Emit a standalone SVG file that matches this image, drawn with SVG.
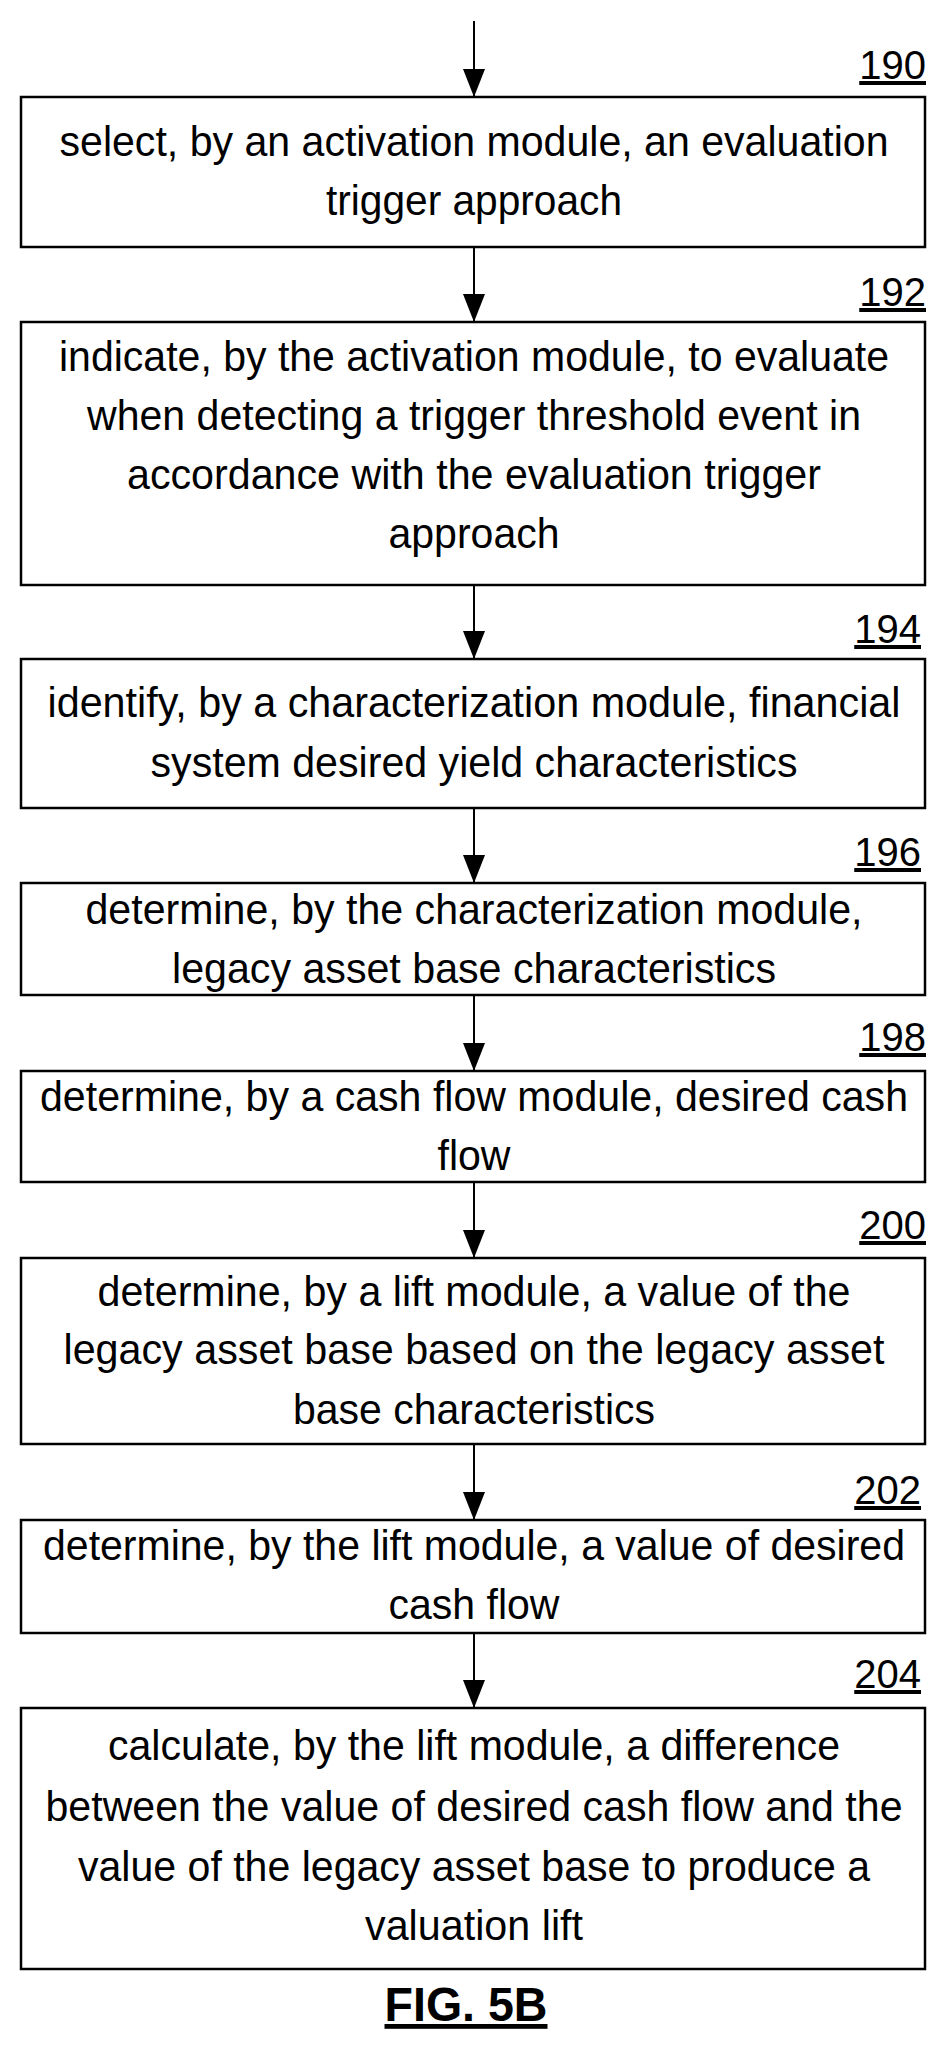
<svg xmlns="http://www.w3.org/2000/svg" width="944" height="2054" viewBox="0 0 944 2054">
<style>
.box{fill:#fff;stroke:#000;stroke-width:2.5}
.t{font-family:"Liberation Sans",Arial,sans-serif;font-size:42px;fill:#000;text-anchor:middle}
.n{font-family:"Liberation Sans",Arial,sans-serif;font-size:40px;fill:#000;text-anchor:end;text-decoration:underline}
.c{stroke:#000;stroke-width:2;fill:none;marker-end:url(#ah)}
</style>
<defs><marker id="ah" markerUnits="userSpaceOnUse" markerWidth="28" markerHeight="22" refX="28" refY="11" orient="auto" viewBox="0 0 28 22"><path d="M0,0 L28,11 L0,22 Z" fill="#000"/></marker></defs>
<g id="connectors">
<line class="c" x1="474" y1="21" x2="474" y2="97"/>
<line class="c" x1="474" y1="247" x2="474" y2="322"/>
<line class="c" x1="474" y1="585" x2="474" y2="659"/>
<line class="c" x1="474" y1="808" x2="474" y2="883"/>
<line class="c" x1="474" y1="995" x2="474" y2="1071"/>
<line class="c" x1="474" y1="1182" x2="474" y2="1258"/>
<line class="c" x1="474" y1="1444" x2="474" y2="1520"/>
<line class="c" x1="474" y1="1633" x2="474" y2="1708"/>
</g>
<g id="n190"><rect class="box" x="21" y="97" width="904" height="150"/>
<text class="n" x="926" y="79">190</text>
<text class="t" x="474" y="156" textLength="829" lengthAdjust="spacingAndGlyphs">select, by an activation module, an evaluation</text>
<text class="t" x="474" y="215" textLength="296" lengthAdjust="spacingAndGlyphs">trigger approach</text></g>
<g id="n192"><rect class="box" x="21" y="322" width="904" height="263"/>
<text class="n" x="926" y="306">192</text>
<text class="t" x="474" y="371" textLength="830" lengthAdjust="spacingAndGlyphs">indicate, by the activation module, to evaluate</text>
<text class="t" x="474" y="430" textLength="774" lengthAdjust="spacingAndGlyphs">when detecting a trigger threshold event in</text>
<text class="t" x="474" y="489" textLength="694" lengthAdjust="spacingAndGlyphs">accordance with the evaluation trigger</text>
<text class="t" x="474" y="548" textLength="171" lengthAdjust="spacingAndGlyphs">approach</text></g>
<g id="n194"><rect class="box" x="21" y="659" width="904" height="149"/>
<text class="n" x="921" y="643">194</text>
<text class="t" x="474" y="717" textLength="853" lengthAdjust="spacingAndGlyphs">identify, by a characterization module, financial</text>
<text class="t" x="474" y="777" textLength="647" lengthAdjust="spacingAndGlyphs">system desired yield characteristics</text></g>
<g id="n196"><rect class="box" x="21" y="883" width="904" height="112"/>
<text class="n" x="921" y="866">196</text>
<text class="t" x="474" y="924" textLength="777" lengthAdjust="spacingAndGlyphs">determine, by the characterization module,</text>
<text class="t" x="474" y="983" textLength="604" lengthAdjust="spacingAndGlyphs">legacy asset base characteristics</text></g>
<g id="n198"><rect class="box" x="21" y="1071" width="904" height="111"/>
<text class="n" x="926" y="1051">198</text>
<text class="t" x="474" y="1111" textLength="868" lengthAdjust="spacingAndGlyphs">determine, by a cash flow module, desired cash</text>
<text class="t" x="474" y="1170" textLength="73" lengthAdjust="spacingAndGlyphs">flow</text></g>
<g id="n200"><rect class="box" x="21" y="1258" width="904" height="186"/>
<text class="n" x="926" y="1239">200</text>
<text class="t" x="474" y="1306" textLength="753" lengthAdjust="spacingAndGlyphs">determine, by a lift module, a value of the</text>
<text class="t" x="474" y="1364" textLength="821" lengthAdjust="spacingAndGlyphs">legacy asset base based on the legacy asset</text>
<text class="t" x="474" y="1424" textLength="362" lengthAdjust="spacingAndGlyphs">base characteristics</text></g>
<g id="n202"><rect class="box" x="21" y="1520" width="904" height="113"/>
<text class="n" x="921" y="1504">202</text>
<text class="t" x="474" y="1560" textLength="862" lengthAdjust="spacingAndGlyphs">determine, by the lift module, a value of desired</text>
<text class="t" x="474" y="1619" textLength="171" lengthAdjust="spacingAndGlyphs">cash flow</text></g>
<g id="n204"><rect class="box" x="21" y="1708" width="904" height="261"/>
<text class="n" x="921" y="1688">204</text>
<text class="t" x="474" y="1760" textLength="732" lengthAdjust="spacingAndGlyphs">calculate, by the lift module, a difference</text>
<text class="t" x="474" y="1821" textLength="857" lengthAdjust="spacingAndGlyphs">between the value of desired cash flow and the</text>
<text class="t" x="474" y="1881" textLength="792" lengthAdjust="spacingAndGlyphs">value of the legacy asset base to produce a</text>
<text class="t" x="474" y="1940" textLength="218" lengthAdjust="spacingAndGlyphs">valuation lift</text></g>
<text x="466" y="2021" font-family="'Liberation Sans',Arial,sans-serif" font-size="48" font-weight="bold" text-anchor="middle" text-decoration="underline" textLength="163" lengthAdjust="spacingAndGlyphs">FIG. 5B</text>
</svg>
